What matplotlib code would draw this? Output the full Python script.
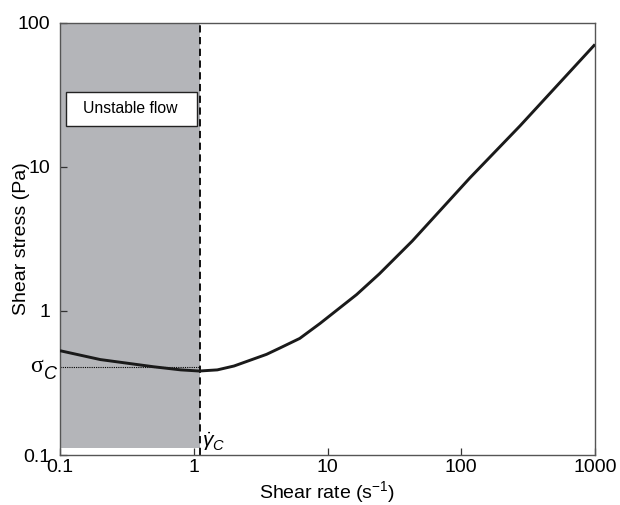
import matplotlib
matplotlib.use("Agg")
import matplotlib.pyplot as plt
from matplotlib.patches import Rectangle

plt.rcParams["font.family"] = ["Liberation Sans", "DejaVu Sans"]
plt.rcParams["mathtext.fontset"] = "custom"
plt.rcParams["mathtext.rm"] = "Liberation Sans"
plt.rcParams["mathtext.it"] = "Liberation Sans:italic"

# flow curve
shear_rate = [0.1, 0.2, 0.5, 0.8, 1.1, 1.5, 2.0, 3.5, 4.4, 6.2, 8.8, 16.5, 24.4, 43, 116, 275, 1000]
shear_stress = [0.53, 0.46, 0.41, 0.39, 0.383, 0.39, 0.415, 0.50, 0.553, 0.645, 0.82, 1.30, 1.81, 3.06, 8.4, 19.3, 71]

gamma_c = 1.11      # critical shear rate
sigma_c = 0.41      # critical stress
band_bottom = 0.112

x_ticks = [0.1, 1, 10, 100, 1000]
x_ticklabels = ["0.1", "1", "10", "100", "1000"]
y_ticks = [0.1, 1, 10, 100]
y_ticklabels = ["0.1", "1", "10", "100"]

fig = plt.figure(figsize=(6.2, 5.05), dpi=100)
ax = fig.add_axes([0.0968, 0.099, 0.8629, 0.8555])
ax.set_xscale("log")
ax.set_yscale("log")
ax.set_xlim(0.1, 1000)
ax.set_ylim(0.1, 100)

# unstable region
ax.fill_between([0.1015, gamma_c], band_bottom, 100, color="#b4b5b9", lw=0, zorder=0)
ax.axvline(gamma_c, color="black", lw=1.3, ls=(0, (4, 2.5)), zorder=2)
ax.plot([0.1, gamma_c], [sigma_c, sigma_c], color="black", lw=0.8, ls=(0, (1, 1)), zorder=2)

ax.plot(shear_rate, shear_stress, color="#1a1a1a", lw=2.1, zorder=3,
        solid_capstyle="butt", solid_joinstyle="round")

# "Unstable flow" box
ax.add_patch(Rectangle((0.011, 0.762), 0.245, 0.078, transform=ax.transAxes,
                       facecolor="white", edgecolor="#222222", lw=1.0, zorder=4))
ax.text(0.1305, 0.801, "Unstable flow", transform=ax.transAxes, ha="center",
        va="center", fontsize=11.3, zorder=5)

# critical labels
ax.text(-0.032, sigma_c, "σ", transform=ax.get_yaxis_transform(), ha="right",
        va="center", fontsize=17, family="Liberation Serif")
ax.text(-0.030, sigma_c * 0.82, "C", transform=ax.get_yaxis_transform(), ha="left",
        va="baseline", fontsize=13, style="italic")
ax.text(gamma_c * 1.03, 0.104, r"$\dot{\gamma}_C$", ha="left", va="bottom", fontsize=15)

ax.set_xticks(x_ticks)
ax.set_xticklabels(x_ticklabels)
ax.set_yticks(y_ticks)
ax.set_yticklabels(y_ticklabels)
ax.minorticks_off()
ax.tick_params(direction="in", length=5, width=0.9, labelsize=14, color="#333333")
ax.tick_params(axis="y", pad=7)
ax.tick_params(axis="x", pad=3)

for s in ax.spines.values():
    s.set_color("#555555")
    s.set_linewidth(1.0)

ax.set_xlabel("Shear rate (s$^{-1}$)", fontsize=14, labelpad=2)
ax.set_ylabel("Shear stress (Pa)", fontsize=14)
ax.yaxis.set_label_coords(-0.056, 0.5)

fig.savefig("out.png", dpi=100)
